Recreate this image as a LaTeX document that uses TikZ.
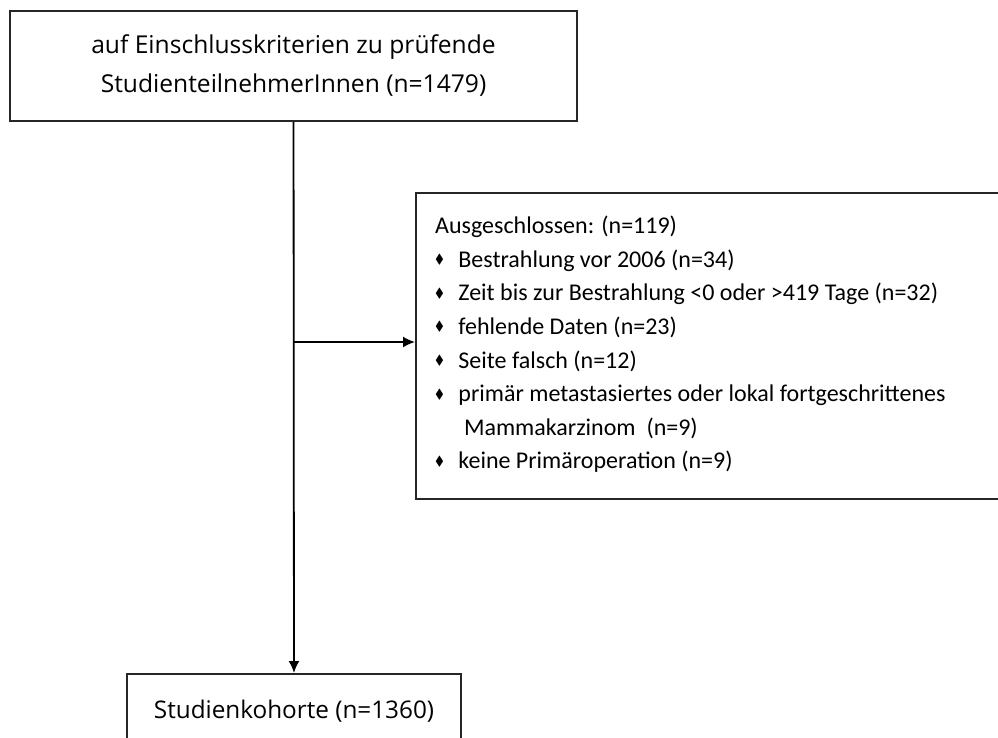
\documentclass[tikz,border=0pt]{standalone}
\usepackage{amsmath, amssymb}
\usepackage{fontspec}
\setmainfont{Open Sans}
\newfontfamily\listfont{Carlito}
\usepackage{tikz}
\usetikzlibrary{calc, positioning, arrows.meta}

\newcommand{\rautepunkt}{\raisebox{0.15em}{\scalebox{0.55}{$\blacklozenge$}}\hspace{0.6em}}

\begin{document}
\begin{tikzpicture}[>={Latex[length=12pt,width=11pt]}, x=1pt, y=-1pt,
    kasten/.style={draw=black!85, line width=2pt, rectangle, inner sep=0pt},
    pfeil/.style={->, line width=1.8pt, black}]
    % 1. Rahmen des Bildes
    \useasboundingbox (0,0) rectangle (998,738);
    \clip (0,0) rectangle (998,738);

    % 2. Die drei Kästen
    \node[kasten, minimum width=567pt, minimum height=110pt, align=center,
          font=\fontsize{24.6}{39}\selectfont] (pruef) at (293.5,66)
          {auf Einschlusskriterien zu prüfende\\StudienteilnehmerInnen (n=1479)};
    \node[kasten, minimum width=604pt, minimum height=306pt] (ausschluss) at (718,346) {};
    \node[kasten, minimum width=334pt, minimum height=74pt,
          font=\fontsize{24.3}{28}\selectfont] (kohorte) at (294,711) {Studienkohorte (n=1360)};

    % Liste der Ausschlussgründe
    \node[anchor=north west, align=left, inner sep=0pt,
          font=\listfont\fontsize{24}{33.6}\selectfont] (liste) at (435,216)
          {Ausgeschlossen: (n=119)\\
           \rautepunkt Bestrahlung vor 2006 (n=34)\\
           \rautepunkt Zeit bis zur Bestrahlung <0 oder >419 Tage (n=32)\\
           \rautepunkt fehlende Daten (n=23)\\
           \rautepunkt Seite falsch (n=12)\\
           \rautepunkt primär metastasiertes oder lokal fortgeschrittenes\\
           \hspace{1.2em}Mammakarzinom \ (n=9)\\
           \rautepunkt keine Primäroperation (n=9)};

    % 3. Verbindungen
    \draw[pfeil] (pruef) -- (kohorte);
    \coordinate (abzweig) at (294,342);
    \draw[pfeil] (abzweig) -- (abzweig -| ausschluss.west);
\end{tikzpicture}
\end{document}
